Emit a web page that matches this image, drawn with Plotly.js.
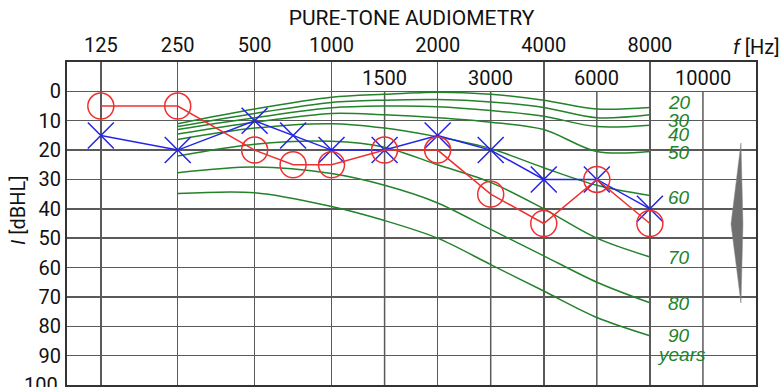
<!DOCTYPE html>
<html>
<head>
<meta charset="utf-8">
<script src="https://cdn.plot.ly/plotly-3.0.1.min.js"></script>
<style>
  html, body { margin: 0; padding: 0; background: #fff; }
  #chart { width: 781px; height: 387px; }
</style>
</head>
<body>
<div id="chart"></div>
<script>
// ---------- data ----------
const majorFreqs = [125, 250, 500, 1000, 2000, 4000, 8000];
const majorLabels = ['125', '250', '500', '1000', '2000', '4000', '8000'];
const minorFreqs = [1500, 3000, 6000, 10000];
const minorLabels = ['1500', '3000', '6000', '10000'];
const levelTicks = [0, 10, 20, 30, 40, 50, 60, 70, 80, 90, 100];

const testFreqs = [125, 250, 500, 750, 1000, 1500, 2000, 3000, 4000, 6000, 8000];
const rightEar = [5, 5, 20, 25, 25, 20, 20, 35, 45, 30, 45];   // red circles
const leftEar = [15, 20, 10, 15, 20, 20, 15, 20, 30, 30, 40];  // blue crosses

const ageFreqs = [250, 500, 1000, 1500, 2000, 3000, 4000, 6000, 8000];
const age20 = [11.0, 6.0, 2.0, 1.0, 0.3, 1.0, 3.0, 6.0, 5.5];
const age30 = [12.0, 7.5, 3.8, 3.0, 2.8, 3.6, 5.5, 9.0, 8.0];
const age40 = [13.0, 9.0, 5.6, 5.0, 5.2, 6.5, 8.5, 12.0, 11.5];
const age50 = [14.5, 10.5, 7.5, 8.0, 9.0, 10.5, 13.0, 20.5, 20.5];
const age60 = [16.4, 12.5, 11.0, 12.5, 15.5, 19.5, 26.0, 32.0, 35.5];
const age70 = [22.0, 18.0, 17.0, 19.0, 25.0, 31.0, 40.0, 50.0, 56.4];
const age80 = [27.7, 25.8, 28.0, 32.0, 38.0, 47.0, 56.0, 65.0, 72.0];
const age90 = [34.8, 34.5, 39.2, 44.0, 50.0, 59.0, 68.0, 77.0, 83.2];
const ageNames = ['20', '30', '40', '50', '60', '70', '80', '90'];
const ageCurves = [age20, age30, age40, age50, age60, age70, age80, age90];

// ---------- audiogram frequency scale ----------
// octaves up to 1 kHz are narrower than octaves above; half-octave
// columns sit at the midpoint of their octave.
const OCT_LO = 1.0, OCT_HI = 1.38;
const slotCoord = {};
(function () {
  slotCoord[125] = 0; slotCoord[250] = OCT_LO; slotCoord[500] = 2 * OCT_LO;
  slotCoord[750] = 2.5 * OCT_LO; slotCoord[1000] = 3 * OCT_LO;
  let c = 3 * OCT_LO;
  [1500, 2000, 3000, 4000, 6000, 8000, 10000].forEach(f => { c += OCT_HI / 2; slotCoord[f] = c; });
})();
const fx = f => slotCoord[f];

// ---------- traces ----------
const GREEN = '#23822a';
const traces = [];
ageCurves.forEach((vals) => {
  traces.push({
    x: ageFreqs.map(fx), y: vals, type: 'scatter', mode: 'lines',
    line: { color: GREEN, width: 1.5, shape: 'spline', smoothing: 0.9 },
    hoverinfo: 'skip', showlegend: false
  });
});
traces.push({
  x: testFreqs.map(fx), y: leftEar, type: 'scatter', mode: 'lines+markers',
  line: { color: '#2424e6', width: 1.5 },
  marker: { symbol: 'x-thin-open', size: 26, color: '#2424e6', line: { color: '#2424e6', width: 1.5 } },
  showlegend: false
});
traces.push({
  x: testFreqs.map(fx), y: rightEar, type: 'scatter', mode: 'lines+markers',
  line: { color: '#ee3030', width: 1.5 },
  marker: { symbol: 'circle-open', size: 26, color: '#ee3030', line: { color: '#ee3030', width: 1.5 } },
  showlegend: false
});

// ---------- layout ----------
const FONT = 'Roboto, "Noto Sans", sans-serif';
const GRID = '#5a5a5a';
const xMin = -0.44, xMax = fx(10000) + OCT_HI / 2;
const yShown = levelTicks.filter(v => v < 100);
const yLast = levelTicks[levelTicks.length - 1];

const shapes = minorFreqs.map(f => ({
  type: 'line', xref: 'x', yref: 'y', x0: fx(f), x1: fx(f), y0: 0, y1: 100,
  line: { color: GRID, width: 1.5 }, layer: 'below'
}));
// grey pointer at right
shapes.push({
  type: 'path', xref: 'paper', yref: 'paper',
  path: 'M 0.9782 0.7492 L 0.9637 0.4985 L 0.9782 0.2539 L 0.9811 0.4985 Z',
  fillcolor: '#6f6f6f', line: { color: '#8a8a8a', width: 0.5 }
});

const annotations = [];
minorFreqs.forEach((f, i) => annotations.push({
  x: fx(f), y: -4.6, xref: 'x', yref: 'y', text: minorLabels[i], showarrow: false,
  font: { family: FONT, size: 20, color: '#111' }, xanchor: 'center', yanchor: 'middle'
}));
// bottom level label (partly outside the picture, as in the original)
annotations.push({
  x: -0.0102, y: yLast, xref: 'paper', yref: 'y', text: String(yLast), showarrow: false,
  font: { family: FONT, size: 20, color: '#111' }, xanchor: 'right', yanchor: 'middle',
  cliponaxis: false
});
const labelY = [3.8, 9.9, 14.8, 20.7, 36.0, 56.5, 72.4, 83.3];
const labelX = fx(8000) + 0.38;
ageNames.forEach((n, i) => annotations.push({
  x: labelX, y: labelY[i], xref: 'x', yref: 'y', text: '<i>' + n + '</i>', showarrow: false,
  font: { family: 'Liberation Sans, Arial, sans-serif', size: 19, color: GREEN }, xanchor: 'center', yanchor: 'middle'
}));
annotations.push({
  x: labelX + 0.03, y: 89.5, xref: 'x', yref: 'y', text: '<i>years</i>', showarrow: false,
  font: { family: 'Liberation Sans, Arial, sans-serif', size: 19, color: GREEN }, xanchor: 'center', yanchor: 'middle'
});
annotations.push({
  x: 1.0, y: 1.046, xref: 'paper', yref: 'paper', text: '<i>f</i> [Hz]', showarrow: false,
  font: { family: FONT, size: 20, color: '#111' }, xanchor: 'center', yanchor: 'middle'
});
annotations.push({
  x: -0.071, y: 0.542, xref: 'paper', yref: 'paper', text: '<i>I</i> [dBHL]', showarrow: false,
  textangle: -90, font: { family: FONT, size: 20, color: '#111' }, xanchor: 'center', yanchor: 'middle'
});

const layout = {
  width: 781, height: 387,
  margin: { l: 67, r: 25, t: 62, b: 2 },
  paper_bgcolor: '#fff', plot_bgcolor: '#fff',
  title: { text: 'PURE-TONE AUDIOMETRY', x: 0.5, xref: 'paper', y: 1 - 18 / 387, yref: 'container',
           xanchor: 'center', yanchor: 'middle', font: { family: FONT, size: 21, color: '#111' } },
  xaxis: {
    range: [xMin, xMax], side: 'top', tickmode: 'array',
    tickvals: majorFreqs.map(fx), ticktext: majorLabels,
    showgrid: true, gridcolor: GRID, gridwidth: 1.5, zeroline: false,
    showline: true, mirror: true, linecolor: '#333', linewidth: 2,
    ticks: '', tickfont: { family: FONT, size: 20, color: '#111' }, fixedrange: true
  },
  yaxis: {
    range: [100, -10], tickmode: 'array', tickvals: yShown, ticktext: yShown.map(String),
    showgrid: true, gridcolor: GRID, gridwidth: 1.5, zeroline: false,
    showline: true, mirror: true, linecolor: '#333', linewidth: 2,
    ticks: '', tickfont: { family: FONT, size: 20, color: '#111' }, fixedrange: true
  },
  shapes: shapes,
  annotations: annotations,
  showlegend: false
};

Plotly.newPlot('chart', traces, layout, { displayModeBar: false, staticPlot: true });
</script>
</body>
</html>
